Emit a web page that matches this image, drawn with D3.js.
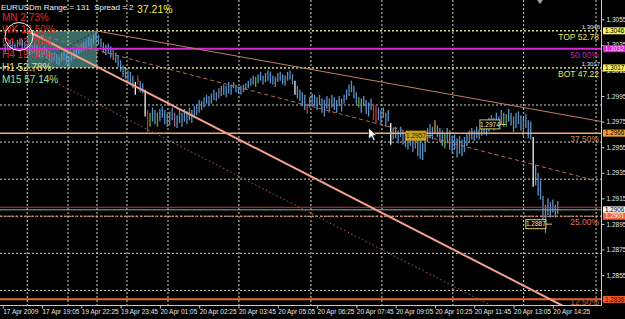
<!DOCTYPE html>
<html>
<head>
<meta charset="utf-8">
<title>EURUSDm M5</title>
<style>
body{margin:0;background:#000}
svg{display:block}
text{font-family:"Liberation Sans",Arial,sans-serif}
</style>
</head>
<body>
<svg id="chart" width="625" height="319"></svg>
<script src="https://d3js.org/d3.v7.min.js"></script>
<script>
// M5 bars, oldest first, bar numbers start at 1
// highs and lows are pips above 1.2800
var barHigh = [
  236,237,239,238,236,239,240,239,237,236,
  234,235,236,235,233,232,234,232,230,229,
  229,228,226,229,230,228,226,229,231,232,
  234,236,237,239,241,240,243,246,243,240,
  237,235,236,234,231,229,227,223,219,217,
  215,214,211,206,211,207,205,200,184,182,
  186,184,182,185,187,184,181,183,186,182,
  180,184,182,185,183,186,184,187,189,192,
  191,194,196,195,197,200,198,201,203,204,
  203,206,204,206,204,202,203,204,205,207,
  209,211,210,212,214,211,213,215,214,211,
  210,213,214,212,211,214,215,212,207,203,
  200,198,196,189,194,197,196,194,196,193,
  192,195,193,196,194,192,195,193,196,200,
  204,207,203,198,194,193,195,192,190,193,
  189,188,186,184,186,182,184,174,170,171,
  168,171,168,166,164,167,164,165,162,161,
  158,164,170,173,171,176,172,170,168,166,
  170,168,164,165,162,164,161,163,166,168,
  170,168,171,169,171,175,173,178,180,178,
  182,179,184,182,181,185,182,179,182,183,
  180,178,181,176,175,163,141,135,129,117,
  110,115,112,114,110,113
];
var barLow = [
  229,231,232,232,231,233,234,232,231,229,
  227,228,229,226,225,225,227,224,222,221,
  223,220,219,222,223,220,218,222,224,225,
  228,229,230,232,234,233,236,239,235,233,
  229,227,228,225,223,221,218,214,210,208,
  206,204,201,196,204,198,197,179,167,171,
  175,173,171,175,178,173,171,172,176,171,
  170,174,171,175,173,176,174,178,180,182,
  184,186,189,187,189,192,191,193,195,196,
  194,197,196,201,198,197,196,198,200,201,
  203,204,202,205,207,204,206,207,205,204,
  202,206,207,204,203,207,208,204,196,193,
  191,187,184,181,186,188,187,184,188,182,
  179,185,182,186,184,182,187,183,189,192,
  195,198,193,189,186,182,187,181,179,184,
  176,174,176,173,178,171,175,157,161,162,
  158,163,157,155,153,156,151,154,148,146,
  145,151,159,162,161,166,163,159,156,154,
  158,153,150,153,147,150,148,151,156,159,
  161,160,162,161,164,165,164,167,170,168,
  171,170,173,171,171,175,172,167,170,173,
  168,164,170,162,161,124,125,117,114,96,
  88,102,100,104,100,103
];
var whiteBars = [54, 58, 119, 158, 216];
var redBars = [55, 59, 124, 151, 152];
var greenBars = [60, 63, 103, 145, 180, 205];
var orangeBars = [176];
var mauveBars = [20, 45, 70, 88, 133, 168, 190];

var timeBars = [0, 16, 32, 48, 64, 80, 96, 112, 128, 144, 160, 176, 192, 208, 224];
var timeLabels = ["17 Apr 2009", "17 Apr 19:05", "19 Apr 22:25", "19 Apr 23:45", "20 Apr 01:05",
  "20 Apr 02:25", "20 Apr 03:45", "20 Apr 05:05", "20 Apr 06:25", "20 Apr 07:45", "20 Apr 09:05",
  "20 Apr 10:25", "20 Apr 11:45", "20 Apr 13:05", "20 Apr 14:25"];
var priceTicks = [1.3055, 1.3035, 1.3015, 1.2995, 1.2975, 1.2955, 1.2935, 1.2915, 1.2895, 1.2875, 1.2855];
var gridPrices = [1.3046, 1.3017, 1.2988, 1.2959, 1.2930, 1.2901, 1.2872, 1.2843];
var gridBars = [10, 26.6, 38.4, 50.6, 67.3, 96.2, 125.5, 154.4, 183.3, 212.1, 241.6];

var levelPrices = [1.3046, 1.3032, 1.3017, 1.2966, 1.2901, 1.2836];
var levelNames = ["TOP 52.78", "50.00%", "BOT 47.22", "37.50%", "25.00%", "12.50%"];
var askPrice = 1.2908, bidPrice = 1.2906;
var axisTags = [1.3046, 1.3032, 1.3017, 1.2966, 1.2906, 1.2901, 1.2836];

var boxBars = [10, 38.4], boxPrices = [1.3017, 1.3046];
var fanLine = [[10, 1.3046], [225, 1.2834]];
var upperLine = [[38, 1.3046], [244, 1.2975]];
var midLine = [[10, 1.3045], [241, 1.2929]];
var lowerLine = [[10, 1.3017], [196, 1.2834]];
var boxDiag = [[12, 1.3017], [38, 1.3046]];

var tagPrices = [1.2957, 1.2974, 1.2887];
var tagBars = [164.2, 194.3, 213];

var symbolText = "EURUSDm Range = 131  Spread = 2";
var rangePct = "37.21%";
var tfNames = ["MN", "WK", "D1", "H4", "H1", "M15"];
var tfValues = ["2.73%", "12.50%", "43.70%", "19.38%", "52.78%", "57.14%"];

// ---- layout
var W = 625, H = 319, plotR = 601, plotB = 305;
var svg = d3.select("#chart");
svg.append("rect").attr("width", W).attr("height", H).attr("fill", "#000");

var x = d3.scaleLinear().domain([0, 244]).range([2.7, 601.96]);
var y = d3.scaleLinear().domain([1.28316, 1.30701]).range([plotB, 0]);
function pip(v) { return 1.28 + v / 10000; }

svg.append("defs").append("clipPath").attr("id", "plot")
  .append("rect").attr("width", plotR).attr("height", plotB);
var g = svg.append("g").attr("clip-path", "url(#plot)");

// teal box behind the bars
g.append("rect")
  .attr("x", x(boxBars[0])).attr("y", y(boxPrices[1]))
  .attr("width", x(boxBars[1]) - x(boxBars[0]))
  .attr("height", y(boxPrices[0]) - y(boxPrices[1]))
  .attr("fill", "#3b6a66");

// grid
g.selectAll("line.hg").data(gridPrices).join("line")
  .attr("x1", 0).attr("x2", plotR)
  .attr("y1", function(d) { return y(d); }).attr("y2", function(d) { return y(d); })
  .attr("stroke", "#d0d0c8").attr("stroke-dasharray", "2,2");
g.selectAll("line.vg").data(gridBars).join("line")
  .attr("x1", function(d) { return x(d); }).attr("x2", function(d) { return x(d); })
  .attr("y1", 0).attr("y2", plotB)
  .attr("stroke", "#d8d8b8").attr("stroke-dasharray", "2,2");

g.append("line")
  .attr("x1", x(boxDiag[0][0])).attr("y1", y(boxDiag[0][1]))
  .attr("x2", x(boxDiag[1][0])).attr("y2", y(boxDiag[1][1]))
  .attr("stroke", "#1c3432").attr("stroke-dasharray", "2,2");

// bars
function barColor(n) {
  if (whiteBars.indexOf(n) >= 0) return "#f2f2f2";
  if (redBars.indexOf(n) >= 0) return "#c03434";
  if (greenBars.indexOf(n) >= 0) return "#5ea845";
  if (orangeBars.indexOf(n) >= 0) return "#d88a30";
  if (mauveBars.indexOf(n) >= 0) return "#9a6c8c";
  return "#5a92c8";
}
g.selectAll("line.bar").data(barHigh).join("line")
  .attr("x1", function(d, i) { return x(i + 1); })
  .attr("x2", function(d, i) { return x(i + 1); })
  .attr("y1", function(d) { return y(pip(d)); })
  .attr("y2", function(d, i) { return y(pip(barLow[i])); })
  .attr("stroke", function(d, i) { return barColor(i + 1); })
  .attr("stroke-width", 1.3);

// horizontal levels
var levelStyle = [
  { c: "#e4e46a", w: 1, d: "2,2", t: "#e6e65e" },
  { c: "#d42ad4", w: 2, d: null, t: "#b430b4" },
  { c: "#e4e46a", w: 1, d: "2,2", t: "#e6e65e" },
  { c: "#f4a676", w: 1.5, d: null, t: "#c98a4e" },
  { c: "#e07a60", w: 1, d: "3,2", t: "#e07060" },
  { c: "#ec622c", w: 2, d: null, t: "#b8603e" }
];
levelPrices.forEach(function(p, i) {
  var s = levelStyle[i];
  g.append("line").attr("x1", 0).attr("x2", plotR)
    .attr("y1", y(p)).attr("y2", y(p))
    .attr("stroke", s.c).attr("stroke-width", s.w)
    .attr("stroke-dasharray", s.d);
});
g.append("line").attr("x1", 0).attr("x2", plotR)
  .attr("y1", y(askPrice)).attr("y2", y(askPrice)).attr("stroke", "#c83232");
g.append("line").attr("x1", 0).attr("x2", plotR)
  .attr("y1", y(bidPrice)).attr("y2", y(bidPrice)).attr("stroke", "#a8a8a8");

// trend lines
function extend(line, toBar) {
  var a = line[0], b = line[1];
  var k = (b[1] - a[1]) / (b[0] - a[0]);
  return [x(a[0]), y(a[1]), x(toBar), y(a[1] + k * (toBar - a[0]))];
}
function trend(line, toBar, color, width, dash) {
  var c = extend(line, toBar);
  g.append("line").attr("x1", c[0]).attr("y1", c[1]).attr("x2", c[2]).attr("y2", c[3])
    .attr("stroke", color).attr("stroke-width", width).attr("stroke-dasharray", dash);
}
trend(upperLine, 244, "#c47c6c", 1, null);
trend(midLine, 241, "#b46c5c", 1, "4,3");
trend(lowerLine, 244, "#a8644e", 1, "1.5,2.5");
trend(fanLine, 244, "#f4a08a", 2, null);

// price tags on the chart
var tagStyle = [
  { fill: "#c9a21a", stroke: "#c9a21a", text: "#2a2000", dy: -9 },
  { fill: "#000", stroke: "#c8d070", text: "#e8e8c0", dy: 1.5 },
  { fill: "#000", stroke: "#d8d070", text: "#e8e8c0", dy: -10 }
];
tagPrices.forEach(function(p, i) {
  var s = tagStyle[i], cx = x(tagBars[i]), cy = y(p) + s.dy;
  g.append("line").attr("x1", cx + 20).attr("x2", cx + 26).attr("y1", cy).attr("y2", cy)
    .attr("stroke", s.stroke);
  g.append("rect").attr("x", cx).attr("y", cy - 4.5).attr("width", 20).attr("height", 9)
    .attr("fill", s.fill).attr("stroke", s.stroke).attr("stroke-width", 1);
  g.append("text").attr("x", cx + 10).attr("y", cy + 2.3).attr("text-anchor", "middle")
    .attr("font-size", "6.5px").attr("fill", s.text).text(d3.format(".4f")(p));
});

// level captions
levelPrices.forEach(function(p, i) {
  svg.append("text").attr("x", 599).attr("y", Math.min(y(p) + 9, plotB - 0.5)).attr("text-anchor", "end")
    .attr("font-size", "8.5px").attr("fill", levelStyle[i].t).text(levelNames[i]);
});
[boxPrices[1], boxPrices[0]].forEach(function(p) {
  svg.append("text").attr("x", 600).attr("y", y(p) - 1.5).attr("text-anchor", "end")
    .attr("font-size", "6px").attr("fill", "#e8e8e8").text(d3.format(".4f")(p));
});

// header and timeframe list
svg.append("text").attr("x", 1).attr("y", 10).attr("font-size", "8px")
  .attr("fill", "#f0f0f0").style("white-space", "pre").text(symbolText);
svg.append("text").attr("x", 137).attr("y", 13).attr("font-size", "10.5px")
  .attr("fill", "#f0f040").text(rangePct);
var tfColors = ["#e02a2a", "#e02a2a", "#e02a2a", "#e02a2a", "#e0e08a", "#9ee09e"];
tfNames.forEach(function(n, i) {
  svg.append("text").attr("x", 2).attr("y", 21 + i * 12.4).attr("font-size", "10px")
    .attr("fill", tfColors[i]).text(n + " " + tfValues[i]);
});
svg.append("circle").attr("cx", 19).attr("cy", 36.5).attr("r", 14)
  .attr("fill", "none").attr("stroke", "#f0f0f0").attr("stroke-width", 1);

// axes
svg.append("line").attr("x1", 0).attr("x2", plotR + 0.5).attr("y1", plotB + 0.5).attr("y2", plotB + 0.5)
  .attr("stroke", "#c8c8c8");
svg.append("line").attr("x1", plotR + 0.5).attr("x2", plotR + 0.5).attr("y1", 0).attr("y2", plotB + 0.5)
  .attr("stroke", "#c8c8c8");

var ya = svg.append("g").attr("transform", "translate(" + (plotR + 0.5) + ",0)")
  .call(d3.axisRight(y).tickValues(priceTicks).tickFormat(d3.format(".4f")).tickSize(3).tickPadding(2));
ya.select(".domain").remove();
ya.selectAll("line").attr("stroke", "#c8c8c8");
ya.selectAll("text").attr("fill", "#e4e4e4").attr("font-size", "6.5px")
  .attr("font-family", "Liberation Sans, Arial, sans-serif");

var xa = svg.append("g").attr("transform", "translate(0," + (plotB + 0.5) + ")")
  .call(d3.axisBottom(x).tickValues(timeBars)
    .tickFormat(function(d, i) { return timeLabels[i]; }).tickSize(3).tickPadding(0.5));
xa.select(".domain").remove();
xa.selectAll("line").attr("stroke", "#c8c8c8");
xa.selectAll("text").attr("fill", "#e4e4e4").attr("font-size", "6.5px")
  .attr("text-anchor", "start").attr("x", 0)
  .attr("font-family", "Liberation Sans, Arial, sans-serif");

// coloured price tags on the axis
var axisTagFill = ["#f2f266", "#e024e0", "#f2f266", "#f0a030", "#f4f4f4", "#f06444", "#f05a28"];
var axisTagText = ["#000", "#f4d0f4", "#000", "#000", "#000", "#fff0e8", "#2a0a00"];
axisTags.forEach(function(p, i) {
  svg.append("rect").attr("x", plotR + 2).attr("y", y(p) - 3.5).attr("width", 22).attr("height", 7)
    .attr("fill", axisTagFill[i]);
  svg.append("text").attr("x", plotR + 4).attr("y", y(p) + 2.2).attr("font-size", "6.3px")
    .attr("fill", axisTagText[i]).text(d3.format(".4f")(p));
});

// chart shift marker and mouse pointer
svg.append("path").attr("d", "M537,0 L543,0 L540,4 Z").attr("fill", "#a0a0a0");
svg.append("path")
  .attr("d", "M0,0 L0,11 L2.8,8.4 L4.8,12.6 L6.6,11.8 L4.6,7.6 L8.2,7.6 Z")
  .attr("transform", "translate(" + x(149) + "," + y(1.2970) + ")")
  .attr("fill", "#fff").attr("stroke", "#000").attr("stroke-width", 0.7);
</script>
</body>
</html>
